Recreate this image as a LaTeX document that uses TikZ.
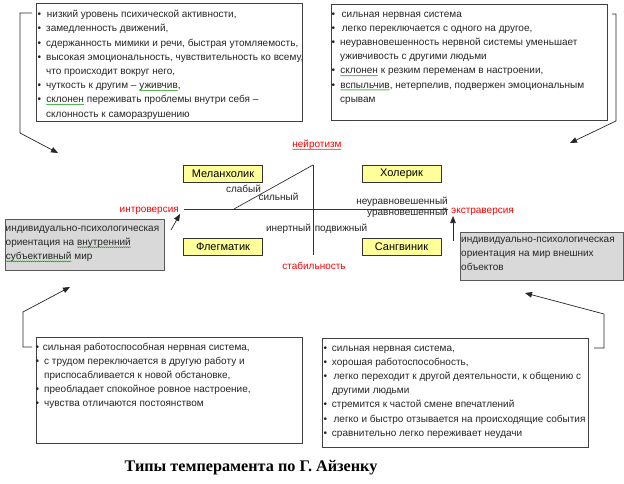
\documentclass[tikz,border=0pt]{standalone}
\usepackage{fontspec}
\setmainfont{Liberation Sans}
\newfontfamily\capfont{Liberation Serif}
\usetikzlibrary{arrows.meta,decorations.pathmorphing}
\definecolor{lred}{HTML}{FF0000}
\definecolor{byel}{HTML}{FFFF99}
\definecolor{bgray}{HTML}{D9D9D9}
\newlength\bw \setlength\bw{8.5pt}
\newcommand\bl{\makebox[\bw][l]{\textbullet}}
\newcommand\ind{\hspace*{\bw}}
\newcommand\sqw[2][green!55!black]{\tikz[baseline=(sqwnode.base)]{\node[inner sep=0pt,outer sep=0pt] (sqwnode) {#2};\draw[#1,line width=0.35pt,decorate,decoration={snake,amplitude=0.45pt,segment length=2pt}] ([yshift=-1.8pt]sqwnode.base west) -- ([yshift=-1.8pt]sqwnode.base east);}}
\begin{document}
\begin{tikzpicture}[x=1pt,y=-1pt,
  txt/.style={font=\fontsize{10}{14.2}\selectfont, align=left, inner sep=0pt, anchor=north west, text=black!85},
  tbox/.style={draw=black!75, line width=0.8pt, fill=white, inner sep=0pt},
  ybox/.style={draw=black!80, fill=byel, line width=0.6pt, minimum width=79pt, minimum height=17pt, inner sep=0pt, font=\fontsize{11}{13}\selectfont},
  gbox/.style={draw=black!65, fill=bgray, line width=1pt, inner sep=0pt},
  lab/.style={font=\fontsize{10}{12}\selectfont, inner sep=0pt, text height=7pt, text depth=2pt, text=black!85},
  rlab/.style={lab, text=lred},
  axis/.style={draw=black!80, line width=0.7pt},
  conn/.style={draw=black!85, line width=0.7pt},
  arr/.style={conn, -{Triangle[length=7pt,width=5.5pt]}}
]
\useasboundingbox[fill=white] (0,0) rectangle (624,484);

% text boxes
\node[tbox, minimum width=266pt, minimum height=118pt] (tl) at (169,62) {};
\node[tbox, minimum width=276pt, minimum height=116pt] (tr) at (469,62) {};
\node[tbox, minimum width=266pt, minimum height=106pt] (bl) at (169,390) {};
\node[tbox, minimum width=266pt, minimum height=109pt] (br) at (455,392.5) {};
\node[gbox, minimum width=159pt, minimum height=51pt] (lg) at (84.5,244.5) {};
\node[gbox, minimum width=163pt, minimum height=48pt] (rg) at (541.5,256) {};

\node[txt] (tlt) at (37.5,7.5) {\setlength\bw{9.2pt}\strut\bl низкий уровень психической активности,\\
\bl замедленность движений,\\
\bl сдержанность мимики и речи, быстрая утомляемость,\\
\bl высокая эмоциональность, чувствительность ко всему,\\
\ind что происходит вокруг него,\\
\bl чуткость к другим – \sqw{уживчив},\\
\bl \sqw{склонен} переживать проблемы внутри себя –\\
\ind склонность к саморазрушению};

\node[txt] (trt) at (331.5,7) {\setlength\bw{10pt}\strut\bl сильная нервная система\\
\bl \,легко переключается с одного на другое,\\
\bl неуравновешенность нервной системы уменьшает\\
\ind уживчивость с другими людьми\\
\bl \sqw{склонен} к резким переменам в настроении,\\
\bl \sqw{вспыльчив}, нетерпелив, подвержен эмоциональным\\
\ind срывам};

\node[txt] (blt) at (35.5,340) {\setlength\bw{7.2pt}\strut\bl сильная работоспособная нервная система,\\
\bl с трудом переключается в другую работу и\\
\ind приспосабливается к новой обстановке,\\
\bl преобладает спокойное ровное настроение,\\
\bl чувства отличаются постоянством};

\node[txt] (brt) at (323.3,341) {\setlength\bw{8.4pt}\strut\bl сильная нервная система,\\
\bl хорошая работоспособность,\\
\bl \,легко переходит к другой деятельности, к общению с\\
\ind другими людьми\\
\bl стремится к частой смене впечатлений\\
\bl \,легко и быстро отзывается на происходящие события\\
\bl сравнительно легко переживает неудачи};

\node[txt] (lgt) at (5.5,221) {\strut индивидуально-психологическая\\
ориентация на \sqw{внутренний}\\
\sqw{субъективный} мир};

\node[txt] (rgt) at (461,232) {\strut индивидуально-психологическая\\
ориентация на мир внешних\\
объектов};

% axes
\coordinate (hL) at (184,209);
\coordinate (hR) at (448,209);
\coordinate (vT) at (313,165);
\coordinate (vB) at (313,255);
\coordinate (dS) at (234,209);
\draw[axis] (hL) -- (hR);
\draw[axis] (vT) -- (vB);
\draw[axis] (dS) -- (vT);

% temperament boxes
\node[ybox] (mel) at (223,173.5) {Меланхолик};
\node[ybox] (hol) at (401.5,173.5) {Холерик};
\node[ybox] (fle) at (223,246.5) {Флегматик};
\node[ybox] (san) at (401.5,246.5) {Сангвиник};

% labels
\node[rlab] (neu) at (317,145) {\sqw[lred]{нейротизм}};
\node[rlab] (stab) at (314,267) {стабильность};
\node[rlab, anchor=east] (intro) at (179,210) {интроверсия};
\node[rlab, anchor=west] (extra) at (451,211) {экстраверсия};
\node[lab] (slab) at (243.5,190) {слабый};
\node[lab] (siln) at (278.5,198) {сильный};
\node[lab, anchor=east] (neur) at (448,202) {неуравновешенный};
\node[lab, anchor=east] (ur) at (448,213) {уравновешенный};
\node[lab] (inert) at (288.5,229) {инертный};
\node[lab] (podv) at (341,229) {подвижный};

% caption
\node[font=\capfont\bfseries\fontsize{16.2}{18}\selectfont, inner sep=0pt] (cap) at (251,468) {Типы темперамента по Г. Айзенку};

% connectors
\coordinate (tlA) at (32,13);
\coordinate (tlB) at (20,13);
\coordinate (tlC) at (20,133);
\coordinate (tlD) at (58,153);
\draw[arr] (tlA) -- (tlB) -- (tlC) -- (tlD);

\coordinate (trA) at (612,14);
\coordinate (trB) at (616,14);
\coordinate (trC) at (616,121);
\coordinate (trD) at (570,143);
\draw[arr] (trA) -- (trB) -- (trC) -- (trD);

\coordinate (blA) at (32,347);
\coordinate (blB) at (23,347);
\coordinate (blC) at (23,312);
\coordinate (blD) at (70,287);
\draw[arr] (blA) -- (blB) -- (blC) -- (blD);

\coordinate (brA) at (594,348);
\coordinate (brB) at (604,348);
\coordinate (brC) at (604,314);
\coordinate (brD) at (525,293);
\draw[arr] (brA) -- (brB) -- (brC) -- (brD);

\coordinate (inA) at (171,230);
\coordinate (inB) at (180,214);
\draw[arr] (inA) -- (inB);

\coordinate (exA) at (453,241);
\coordinate (exB) at (453,216);
\draw[arr] (exA) -- (exB);
\end{tikzpicture}
\end{document}
